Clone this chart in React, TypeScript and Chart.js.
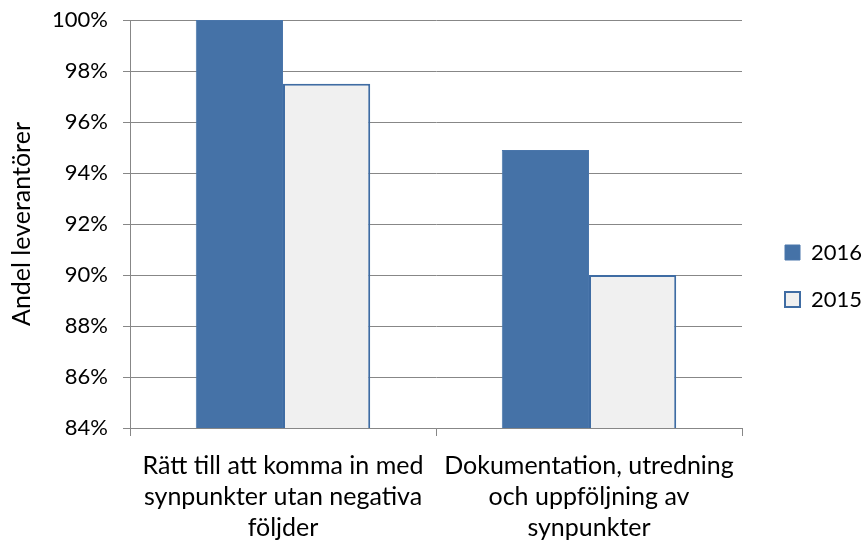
import React, { useEffect, useRef } from "react";
import { Chart, registerables } from "chart.js";

Chart.register(...registerables);

const categories: string[][] = [
  ["Rätt till att komma in med", "synpunkter utan negativa", "följder"],
  ["Dokumentation, utredning", "och uppföljning av", "synpunkter"],
];
const series2016: number[] = [100, 94.9];
const series2015: number[] = [97.5, 90];
const seriesNames: string[] = ["2016", "2015"];
const yTitle = "Andel leverantörer";

const FONT = "Lato, 'Open Sans', sans-serif";
const GRID = "#878787";

const legendPlace = {
  id: "legendPlace",
  afterInit(chart: any) {
    const lg = chart.legend;
    if (!lg) return;
    const orig = lg.fit.bind(lg);
    lg.fit = function () {
      orig();
      this.width = 121;
    };
  },
  afterLayout(chart: any) {
    const lg = chart.legend;
    if (!lg) return;
    lg.left = 760;
    lg.right = 881;
    lg.top -= 4;
    lg.bottom -= 4;
  },
};

export default function App() {
  const ref = useRef<HTMLCanvasElement | null>(null);
  useEffect(() => {
    document.body.style.margin = "0";
    const ctx = ref.current!;
    const chart = new Chart(ctx, {
      type: "bar",
      data: {
        labels: categories,
        datasets: [
          {
            label: seriesNames[0],
            data: series2016,
            backgroundColor: "#4572A7",
            borderColor: "#4A76AB",
            borderWidth: 1,
            categoryPercentage: 0.57,
            barPercentage: 1.0,
          },
          {
            label: seriesNames[1],
            data: series2015,
            backgroundColor: "#F0F0F0",
            borderColor: "#3F6CA3",
            borderWidth: 2,
            categoryPercentage: 0.57,
            barPercentage: 1.0,
          },
        ],
      },
      plugins: [legendPlace],
      options: {
        animation: false,
        responsive: false,
        maintainAspectRatio: false,
        layout: { padding: { top: 20, right: 0, left: 7, bottom: 0 } },
        plugins: {
          tooltip: { enabled: false },
          legend: {
            position: "right",
            labels: {
              color: "#000",
              font: { family: FONT, size: 22 },
              boxWidth: 15,
              boxHeight: 15,
              padding: 25,
            },
          },
        },
        scales: {
          x: {
            afterFit: (s: any) => {
              s.height = 112;
              s.paddingLeft = 0;
              s.paddingRight = 0;
            },
            grid: {
              display: true,
              drawOnChartArea: false,
              drawTicks: true,
              tickLength: 8,
              color: GRID,
              offset: true,
            },
            border: { color: GRID, width: 1 },
            ticks: {
              color: "#000",
              font: { family: FONT, size: 25, lineHeight: 1.24 },
              maxRotation: 0,
              autoSkip: false,
              padding: 14,
            },
          },
          y: {
            afterFit: (s: any) => {
              s.width = 123;
              s.paddingTop = 0;
              s.paddingBottom = 0;
            },
            min: 84,
            max: 100,
            grid: { color: GRID, tickLength: 7, lineWidth: 1 },
            border: { color: GRID, width: 1 },
            ticks: {
              stepSize: 2,
              color: "#000",
              font: { family: FONT, size: 22 },
              padding: 15,
              callback: (v: any) => `${v}%`,
            },
            title: {
              display: true,
              text: yTitle,
              color: "#000",
              font: { family: FONT, size: 25 },
              padding: { top: 0, bottom: 6 },
            },
          },
        },
      },
    });
    return () => chart.destroy();
  }, []);
  return (
    <div style={{ position: "fixed", left: 0, top: 0, width: 863, height: 540 }}>
      <canvas ref={ref} width={863} height={540} style={{ width: 863, height: 540 }} />
    </div>
  );
}
